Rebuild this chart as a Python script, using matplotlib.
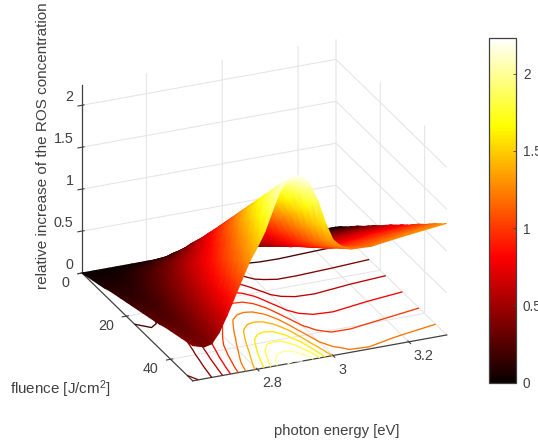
import numpy as np
import matplotlib
matplotlib.use('Agg')
import matplotlib.pyplot as plt
from matplotlib.cm import ScalarMappable
from matplotlib.colors import Normalize
from matplotlib.tri import Triangulation
from mpl_toolkits.mplot3d import proj3d

# Data
photon_energy = [2.63, 2.66, 2.68, 2.70, 2.72, 2.74, 2.76, 2.78, 2.80, 2.82, 2.84, 2.86,
                 2.88, 2.90, 2.92, 2.94, 2.96, 2.98, 3.00, 3.02, 3.05, 3.10, 3.20, 3.30]
fluence = [0, 2.5, 5, 7.5, 10, 12.5, 15, 17.5, 20, 22.5, 25, 27.5, 30, 32.5, 35, 37.5, 40, 42.5, 45, 47.5, 50]
# one row per photon energy, one column per fluence
ros = [
    [0, .02, .04, .06, .08, .11, .13, .15, .17, .19, .21, .23, .25, .27, .29, .32, .34, .36, .38, .40, .42],
    [0, .02, .04, .06, .08, .10, .11, .13, .15, .17, .19, .21, .23, .25, .27, .29, .30, .32, .34, .36, .38],
    [0, .02, .04, .06, .08, .10, .12, .14, .16, .18, .20, .22, .24, .26, .28, .30, .32, .34, .36, .38, .40],
    [0, .03, .05, .08, .10, .13, .16, .18, .21, .23, .26, .29, .31, .34, .36, .39, .42, .44, .47, .49, .52],
    [0, .04, .07, .11, .14, .18, .21, .25, .28, .32, .35, .39, .42, .46, .49, .53, .56, .60, .63, .67, .70],
    [0, .05, .09, .14, .18, .23, .27, .32, .36, .41, .45, .50, .54, .59, .63, .68, .72, .77, .81, .86, .90],
    [0, .06, .11, .17, .22, .28, .33, .39, .44, .50, .55, .61, .66, .72, .77, .83, .88, .94, .99, 1.05, 1.10],
    [0, .07, .13, .20, .26, .33, .39, .46, .52, .59, .65, .72, .78, .85, .91, .98, 1.04, 1.11, 1.17, 1.24, 1.30],
    [0, .07, .15, .22, .29, .36, .44, .51, .58, .65, .73, .80, .87, .94, 1.02, 1.09, 1.16, 1.23, 1.31, 1.38, 1.45],
    [0, .08, .16, .24, .32, .41, .49, .57, .65, .73, .81, .89, .97, 1.05, 1.13, 1.22, 1.30, 1.38, 1.46, 1.54, 1.62],
    [0, .09, .19, .28, .37, .46, .56, .65, .74, .83, .93, 1.02, 1.11, 1.20, 1.30, 1.39, 1.48, 1.57, 1.67, 1.76, 1.85],
    [0, .10, .21, .31, .42, .52, .62, .73, .83, .94, 1.04, 1.14, 1.25, 1.35, 1.46, 1.56, 1.66, 1.77, 1.87, 1.98, 2.08],
    [0, .11, .22, .33, .44, .55, .66, .77, .88, .99, 1.10, 1.21, 1.32, 1.43, 1.54, 1.65, 1.76, 1.87, 1.98, 2.09, 2.20],
    [0, .11, .22, .33, .45, .56, .67, .78, .89, 1.00, 1.12, 1.23, 1.34, 1.45, 1.56, 1.67, 1.78, 1.90, 2.01, 2.12, 2.23],
    [0, .11, .22, .33, .44, .55, .66, .77, .88, .99, 1.10, 1.21, 1.32, 1.43, 1.54, 1.65, 1.76, 1.87, 1.98, 2.09, 2.20],
    [0, .10, .21, .31, .42, .52, .62, .73, .83, .94, 1.04, 1.14, 1.25, 1.35, 1.46, 1.56, 1.66, 1.77, 1.87, 1.98, 2.08],
    [0, .09, .19, .28, .38, .47, .56, .66, .75, .85, .94, 1.03, 1.13, 1.22, 1.32, 1.41, 1.50, 1.60, 1.69, 1.79, 1.88],
    [0, .08, .16, .24, .32, .40, .48, .56, .64, .72, .80, .88, .96, 1.04, 1.12, 1.20, 1.28, 1.36, 1.44, 1.52, 1.60],
    [0, .07, .14, .21, .28, .35, .41, .48, .55, .62, .69, .76, .83, .90, .97, 1.04, 1.10, 1.17, 1.24, 1.31, 1.38],
    [0, .06, .13, .19, .26, .32, .39, .45, .52, .58, .65, .71, .77, .84, .90, .97, 1.03, 1.10, 1.16, 1.23, 1.29],
    [0, .06, .12, .18, .25, .31, .37, .43, .49, .55, .62, .68, .74, .80, .86, .92, .98, 1.05, 1.11, 1.17, 1.23],
    [0, .06, .12, .18, .24, .31, .37, .43, .49, .55, .61, .67, .73, .79, .85, .92, .98, 1.04, 1.10, 1.16, 1.22],
    [0, .06, .13, .19, .26, .32, .38, .45, .51, .58, .64, .70, .77, .83, .90, .96, 1.02, 1.09, 1.15, 1.22, 1.28],
    [0, .07, .13, .20, .27, .33, .40, .47, .53, .60, .67, .73, .80, .86, .93, 1.00, 1.06, 1.13, 1.20, 1.26, 1.33],
]
contour_levels = [.2, .4, .6, .8, 1.0, 1.2, 1.4, 1.6, 1.8, 2.0, 2.2]
x_ticks = [2.8, 3, 3.2]
y_ticks = [0, 20, 40]
z_ticks = [0, .5, 1, 1.5, 2]
x_labels = ['2.8', '3', '3.2']
y_labels = ['0', '20', '40']
z_labels = ['0', '0.5', '1', '1.5', '2']
cbar_ticks = [0, .5, 1, 1.5, 2]
C_MAX = 2.23

plt.rcParams['font.family'] = ['Liberation Sans', 'DejaVu Sans']
plt.rcParams['mathtext.default'] = 'regular'
plt.rcParams['font.size'] = 10.3
plt.rcParams['text.color'] = '0.25'
plt.rcParams['xtick.color'] = '0.25'
plt.rcParams['ytick.color'] = '0.25'
plt.rcParams['grid.color'] = '0.9'
plt.rcParams['grid.linewidth'] = 0.8

W, H = 538, 446
fig = plt.figure(figsize=(W / 100, H / 100), dpi=100)
ax = fig.add_axes([0.05, 0.05, 0.9 * H / W, 0.9], projection='3d', proj_type='ortho')
ax.computed_zorder = False

X, Y = np.meshgrid(photon_energy, fluence, indexing='ij')
Z = np.array(ros)
norm = Normalize(0, C_MAX)

ax.contour(X, Y, Z, levels=contour_levels, offset=0, cmap='hot', norm=norm, linewidths=0.95, zorder=1)

ax.set_xlim(2.63, 3.30, view_margin=0)
ax.set_ylim(50, 0, view_margin=0)
ax.set_zlim(0, 2.24, view_margin=0)
ax.set_box_aspect((276.6, 280, 207))
ax.view_init(elev=24.8, azim=-113.3)

ax.set_xticks(x_ticks)
ax.set_yticks(y_ticks)
ax.set_zticks(z_ticks)
ax.set_xticklabels([])
ax.set_yticklabels([])
ax.set_zticklabels([])
for a in (ax.xaxis, ax.yaxis, ax.zaxis):
    a.set_pane_color((1, 1, 1, 1))
    a.pane.set_edgecolor('none')
    a.line.set_color('0.25')
    a.line.set_linewidth(0.9)


def to_pixels(x, y, z):
    xp, yp, depth = proj3d.proj_transform(x, y, z, ax.get_proj())
    pts = ax.transData.transform(np.column_stack((np.ravel(xp), np.ravel(yp))))
    return pts[:, 0], pts[:, 1], np.ravel(depth)


# fit the projected box onto the reference pixels
fig.canvas.draw()
ax0, _, _ = to_pixels(2.63, 0, 0)
ax1, _, _ = to_pixels(3.30, 0, 0)
k = 254 / abs(ax1[0] - ax0[0])
p = ax.get_position(original=True)
ax.set_position([p.x0, p.y0, p.width * k, p.height * k])
fig.canvas.draw()
px, py, _ = to_pixels(2.63, 0, 0)
p = ax.get_position(original=True)
ax.set_position([p.x0 + (82 - px[0]) / W, p.y0 + ((H - 273) - py[0]) / H, p.width, p.height])
fig.canvas.draw()

# surface: the 3D mesh projected with the axes' own camera, far triangles first,
# on a pixel-space overlay so that it can be Gouraud shaded like the original
sx, sy, depth = to_pixels(X.ravel(), Y.ravel(), Z.ravel())
n_x, n_f = Z.shape
tris = []
for i in range(n_x - 1):
    for j in range(n_f - 1):
        a0 = i * n_f + j
        b0 = a0 + n_f
        tris.append([a0, b0, a0 + 1])
        tris.append([b0, b0 + 1, a0 + 1])
tris = np.array(tris)
tris = tris[np.argsort(-depth[tris].mean(axis=1), kind='stable')]

overlay = fig.add_axes([0, 0, 1, 1])
overlay.set_xlim(0, W)
overlay.set_ylim(0, H)
overlay.axis('off')
overlay.tripcolor(Triangulation(sx, sy, tris), Z.ravel(), shading='gouraud', cmap='hot', norm=norm)

# tick labels sit at fixed offsets from their ticks, as in the reference
for v, s in zip(z_ticks, z_labels):
    tx, ty, _ = to_pixels(2.63, 0, v)
    fig.text(73.5 / W, (ty[0] + 8) / H, s, ha='right', va='center')
for v, s in zip(y_ticks, y_labels):
    tx, ty, _ = to_pixels(2.63, v, 0)
    fig.text((tx[0] - 12.5) / W, (ty[0] - 10) / H, s, ha='right', va='center')
for v, s in zip(x_ticks, x_labels):
    tx, ty, _ = to_pixels(v, 50, 0)
    fig.text((tx[0] + 5) / W, (ty[0] - 14) / H, s, ha='left', va='center')

fig.text(43 / W, 1 - 146 / H, 'relative increase of the ROS concentration', rotation=90,
         ha='center', va='center', fontsize=11)
fig.text(60 / W, 1 - 389 / H, 'fluence [J/cm$^2$]', ha='center', va='center', fontsize=10.9)
fig.text(337 / W, 1 - 431 / H, 'photon energy [eV]', ha='center', va='center', fontsize=10.7)

cax = fig.add_axes([489 / W, 1 - 382.5 / H, 27 / W, 344.5 / H])
cb = fig.colorbar(ScalarMappable(norm=norm, cmap='hot'), cax=cax)
cb.set_ticks(cbar_ticks)
cb.set_ticklabels(['0', '0.5', '1', '1.5', '2'])
cax.tick_params(direction='in', length=2.5, width=0.6, color='0.25', pad=5, labelsize=9.8)
cb.outline.set_edgecolor('0.25')
cb.outline.set_linewidth(0.9)

fig.savefig('out.png', dpi=100)
